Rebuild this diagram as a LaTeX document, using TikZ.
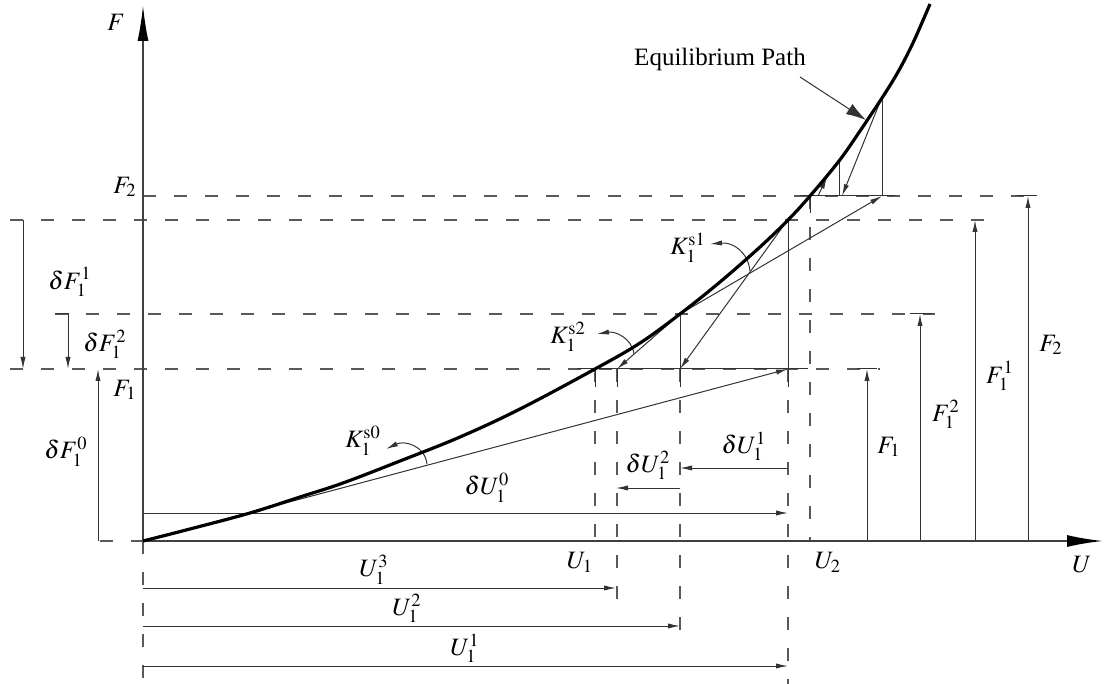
\documentclass[tikz,border=0pt]{standalone}
\usepackage{mathptmx}
\usepackage{fontspec}
\setmainfont{Liberation Serif}
\usetikzlibrary{arrows.meta}
\begin{document}
\begin{tikzpicture}[x=0.5pt,y=-0.5pt,
  ax/.style={draw=black!75, line width=1pt, -{Latex[length=18pt,width=5.5pt,black]}},
  thinln/.style={draw=black!80, line width=0.5pt},
  arr/.style={thinln, -{Latex[length=6pt,width=2.6pt]}},
  dsh/.style={draw=black!65, line width=0.6pt, dash pattern=on 6.5pt off 9pt},
  eqcurve/.style={line width=1.6pt, draw=black},
  lab/.style={font=\fontsize{12.5}{15}\selectfont, inner sep=0pt}]
\fill[white] (0,0) rectangle (1104,684);
\useasboundingbox (0,0) rectangle (1104,684);

% key points
\coordinate (O) at (143,541);
\coordinate (P1) at (595,369);
\coordinate (P12) at (680,314);
\coordinate (P11) at (788,220);
\coordinate (P2) at (810,196);
\coordinate (Q1) at (788,369);
\coordinate (Q2) at (680,369);
\coordinate (Q3) at (617,369);
\coordinate (R1) at (882,196);
\coordinate (R2) at (842,196);
\coordinate (R3) at (818,196);
\coordinate (C1) at (882,98);
\coordinate (C2) at (839,161);
\coordinate (C3) at (827,177);
\coordinate (B0) at (784,225);
\coordinate (E0) at (880,102);

% dashed levels
\draw[dsh] (143,196) -- (1040,196);
\draw[dsh] (10,220) -- (990,220);
\draw[dsh] (55,314) -- (935,314);
\draw[dsh] (10,369) -- (880,369);
\draw[dsh] (100,541) -- (143,541);
\draw[dsh] (143,541) -- (143,684);
\draw[dsh] (595,369) -- (595,541);
\draw[dsh] (617,369) -- (617,605);
\draw[dsh] (680,369) -- (680,645);
\draw[dsh] (788,369) -- (788,684);
\draw[dsh] (810,196) -- (810,541);

% solid construction lines
\draw[thinln] (577,369) -- (808,369);
\draw[thinln] (800,196) -- (895,196);
\draw[thinln] (P1) -- (595,387);
\draw[thinln] (Q3) -- (617,387);
\draw[thinln] (P12) -- (680,387);
\draw[thinln] (P11) -- (788,387);
\draw[thinln] (P2) -- (810,213);
\draw[thinln] (C1) -- (R1);
\draw[thinln] (C2) -- (839,196);

% iteration arrows
\draw[arr] (O) -- (Q1);
\draw[arr] (B0) -- (Q2);
\draw[arr] (P12) -- (R1);
\draw[arr] (P12) -- (Q3);
\draw[arr] (E0) -- (R2);
\draw[arr] (R3) -- (C3);

% left force increments
\draw[arr] (23,220) -- (23,369);
\draw[arr] (55,314) -- (68,314) -- (68,369);
\draw[arr] (98,541) -- (98,369);

% right force arrows
\draw[arr] (867,541) -- (867,369);
\draw[thinln] (857,369) -- (877,369);
\draw[arr] (920,541) -- (920,314);
\draw[thinln] (910,314) -- (932,314);
\draw[arr] (975,541) -- (975,220);
\draw[arr] (1028,541) -- (1028,196);
\draw[thinln] (1017,196) -- (1037,196);

% displacement increments
\draw[arr] (143,513) -- (788,513);
\draw[arr] (788,468) -- (680,468);
\draw[arr] (680,488) -- (616,488);

% total displacements
\draw[arr] (143,588) -- (616,588);
\draw[arr] (143,626) -- (680,626);
\draw[arr] (143,666) -- (788,666);

% stiffness arcs
\draw[arr] (427,464) .. controls (425,446) and (405,440) .. (386,449);
\draw[arr] (634,354) .. controls (632,338) and (615,331) .. (597,334);
\draw[arr] (750,271) .. controls (748,252) and (733,242) .. (710,244);

% axes
\draw[ax] (O) -- (143,5);
\draw[ax, -{Latex[length=18pt,width=6pt,black]}] (O) -- (1103,541);

% equilibrium path
\draw[eqcurve] plot[smooth, tension=0.6] coordinates {(143,541) (190,529) (250,513) (300,497) (343,483) (400,461) (460,437) (520,409) (595,369) (640,343) (680,314) (720,282) (760,247) (788,220) (810,196) (839,161) (860,131) (882,98) (898,72) (912,45) (924,18) (930,4)};
\draw[thinln, -{Latex[length=10pt,width=6pt]}] (800,77) -- (866,120);

% labels
\node[lab] (lEq) at (720,59) {Equilibrium Path};
\node[lab] (lF) at (116,22) {$F$};
\node[lab] (lU) at (1082,565) {$U$};
\node[lab] (lF2l) at (125,187) {$F_2$};
\node[lab] (lF1l) at (125,390) {$F_1$};
\node[lab] (ldF11) at (70,282) {$\delta F_1^1$};
\node[lab] (ldF12) at (105,344) {$\delta F_1^2$};
\node[lab] (ldF10) at (66,452) {$\delta F_1^0$};
\node[lab] (ldU10) at (487,488) {$\delta U_1^0$};
\node[lab] (ldU12) at (648,465) {$\delta U_1^2$};
\node[lab] (ldU11) at (744,446) {$\delta U_1^1$};
\node[lab] (lK0) at (363,441) {$K_1^{\mathrm{s}0}$};
\node[lab] (lK2) at (568,337) {$K_1^{\mathrm{s}2}$};
\node[lab] (lK1) at (688,248) {$K_1^{\mathrm{s}1}$};
\node[lab] (lU1) at (580,562) {$U_1$};
\node[lab] (lU2) at (828,562) {$U_2$};
\node[lab] (lU13) at (374,570) {$U_1^3$};
\node[lab] (lU12) at (407,608) {$U_1^2$};
\node[lab] (lU11) at (465,648) {$U_1^1$};
\node[lab] (lF1r) at (889,447) {$F_1$};
\node[lab] (lF12r) at (946,414) {$F_1^2$};
\node[lab] (lF11r) at (1000,376) {$F_1^1$};
\node[lab] (lF2r) at (1051,345) {$F_2$};
\end{tikzpicture}
\end{document}
